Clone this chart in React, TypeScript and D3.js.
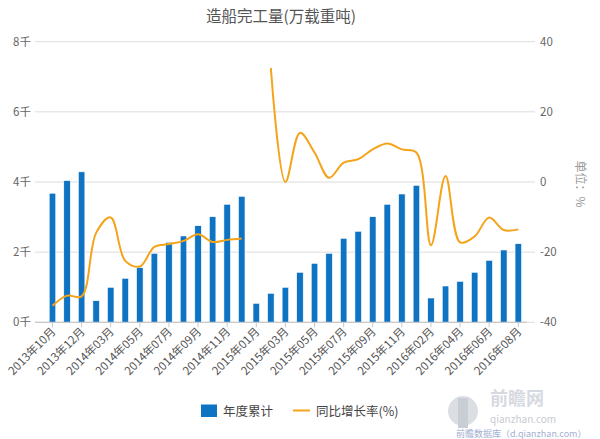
import React from "react";
import * as d3 from "d3";

const categories = [
  "2013年10月", "2013年11月", "2013年12月",
  "2014年02月", "2014年03月", "2014年04月", "2014年05月", "2014年06月", "2014年07月",
  "2014年08月", "2014年09月", "2014年10月", "2014年11月", "2014年12月",
  "2015年01月", "2015年02月", "2015年03月", "2015年04月", "2015年05月", "2015年06月",
  "2015年07月", "2015年08月", "2015年09月", "2015年10月", "2015年11月", "2015年12月",
  "2016年02月", "2016年03月", "2016年04月", "2016年05月", "2016年06月", "2016年07月", "2016年08月",
];

const cumulative = [
  3680, 4040, 4290,
  616, 998, 1255, 1557, 1967, 2281, 2461, 2754, 3011, 3365, 3593,
  542, 827, 998, 1426, 1682, 1967, 2395, 2595, 3011, 3365, 3658, 3906,
  693, 1035, 1169, 1426, 1768, 2062, 2241,
];

const growth: (number | null)[] = [
  -35.3, -32.4, -32.6,
  -14.5, -10.1, -22.5, -24.1, -18.5, -17.7, -16.8, -14.9, -17.1, -16.5, -16.1,
  null, 32.5, 0, 14, 8.4, 1.2, 5.5, 6.5, 9.3, 11, 9.3, 8.4,
  -18, 1.7, -17.2, -15.5, -10.1, -13.7, -13.5,
];

const leftTicks = [0, 2000, 4000, 6000, 8000];
const rightTicks = [-40, -20, 0, 20, 40];

const W = 600;
const H = 439;
const plotLeft = 35;
const plotRight = 527;
const plotTop = 41.7;
const plotBottom = 322.3;

const FONT = "'Noto Sans CJK SC', 'Noto Sans', sans-serif";

export default function App() {
  const x = d3.scaleBand<string>().domain(categories).range([45.2, 525.6]).paddingInner(0.55).paddingOuter(0.275);
  const yL = d3.scaleLinear().domain([0, 8000]).range([plotBottom, plotTop]);
  const yR = d3.scaleLinear().domain([-40, 40]).range([plotBottom, plotTop]);
  const cx = (c: string) => (x(c) as number) + x.bandwidth() / 2;

  const line = d3
    .line<number | null>()
    .defined((d) => d !== null)
    .x((_, i) => cx(categories[i]))
    .y((d) => yR(d as number))
    .curve(d3.curveCatmullRom.alpha(0.5));

  const labelIdx = categories.map((_, i) => i).filter((i) => i % 2 === 0);

  return (
    <svg width={W} height={H} style={{ position: "absolute", left: 0, top: 0, background: "#fff" }} fontFamily={FONT}>
      <text x={281} y={22} textAnchor="middle" fontSize={15.5} fill="#555">
        造船完工量(万载重吨)
      </text>

      {leftTicks.map((t) => (
        <g key={"g" + t}>
          <line x1={plotLeft} x2={535} y1={yL(t)} y2={yL(t)} stroke="#dcdcdc" strokeWidth={1} />
          <text x={31} y={yL(t) + 4} textAnchor="end" fontSize={11.5} fill="#666">
            {t === 0 ? "0千" : `${t / 1000}千`}
          </text>
        </g>
      ))}
      {rightTicks.map((t) => (
        <text key={"r" + t} x={540} y={yR(t) + 4} textAnchor="start" fontSize={11.5} fill="#666">
          {t}
        </text>
      ))}
      <text
        transform={`translate(576,184) rotate(90)`}
        textAnchor="middle"
        fontSize={12}
        fill="#999"
      >
        单位：%
      </text>

      {categories.map((c, i) => (
        <rect
          key={c}
          x={x(c)}
          y={yL(cumulative[i])}
          width={x.bandwidth()}
          height={plotBottom - yL(cumulative[i])}
          fill="#0f73c3"
          stroke="#ffffff"
          strokeWidth={0.6}
        />
      ))}

      <line x1={plotLeft} x2={plotRight} y1={plotBottom} y2={plotBottom} stroke="#c8c8c8" strokeWidth={1.2} />
      {labelIdx.map((i) => {
        const px = cx(categories[i]);
        return (
          <g key={"t" + i}>
            <line x1={px} x2={px} y1={plotBottom} y2={plotBottom + 5} stroke="#c8c8c8" />
            <text
              transform={`translate(${px + 4},${plotBottom + 10}) rotate(-45)`}
              textAnchor="end"
              fontSize={11.5}
              fill="#555"
            >
              {categories[i]}
            </text>
          </g>
        );
      })}

      <path d={line(growth) || ""} fill="none" stroke="#f5a31a" strokeWidth={2} />

      <rect x={201} y={404.5} width={16} height={12.5} fill="#0f73c3" />
      <text x={223} y={415.5} fontSize={12.5} fill="#444">年度累计</text>
      <line x1={293} x2={310} y1={410.5} y2={410.5} stroke="#f5a31a" strokeWidth={2} />
      <text x={316} y={415.5} fontSize={12.5} fill="#444">同比增长率(%)</text>

      <g opacity={0.75}>
        <circle cx={463} cy={411} r={15} fill="#d0d5dc" />
        <rect x={458} y={398} width={10} height={30} fill="#b7bec8" />
        <text x={490} y={405} fontSize={18} fill="#c9ced6" fontWeight="bold">前瞻网</text>
        <text x={490} y={423} fontSize={10} fill="#b5b9bf">qianzhan.com</text>
        <text x={456} y={436.5} fontSize={9} fill="#7f95c2">前瞻数据库（d.qianzhan.com）</text>
      </g>
    </svg>
  );
}
